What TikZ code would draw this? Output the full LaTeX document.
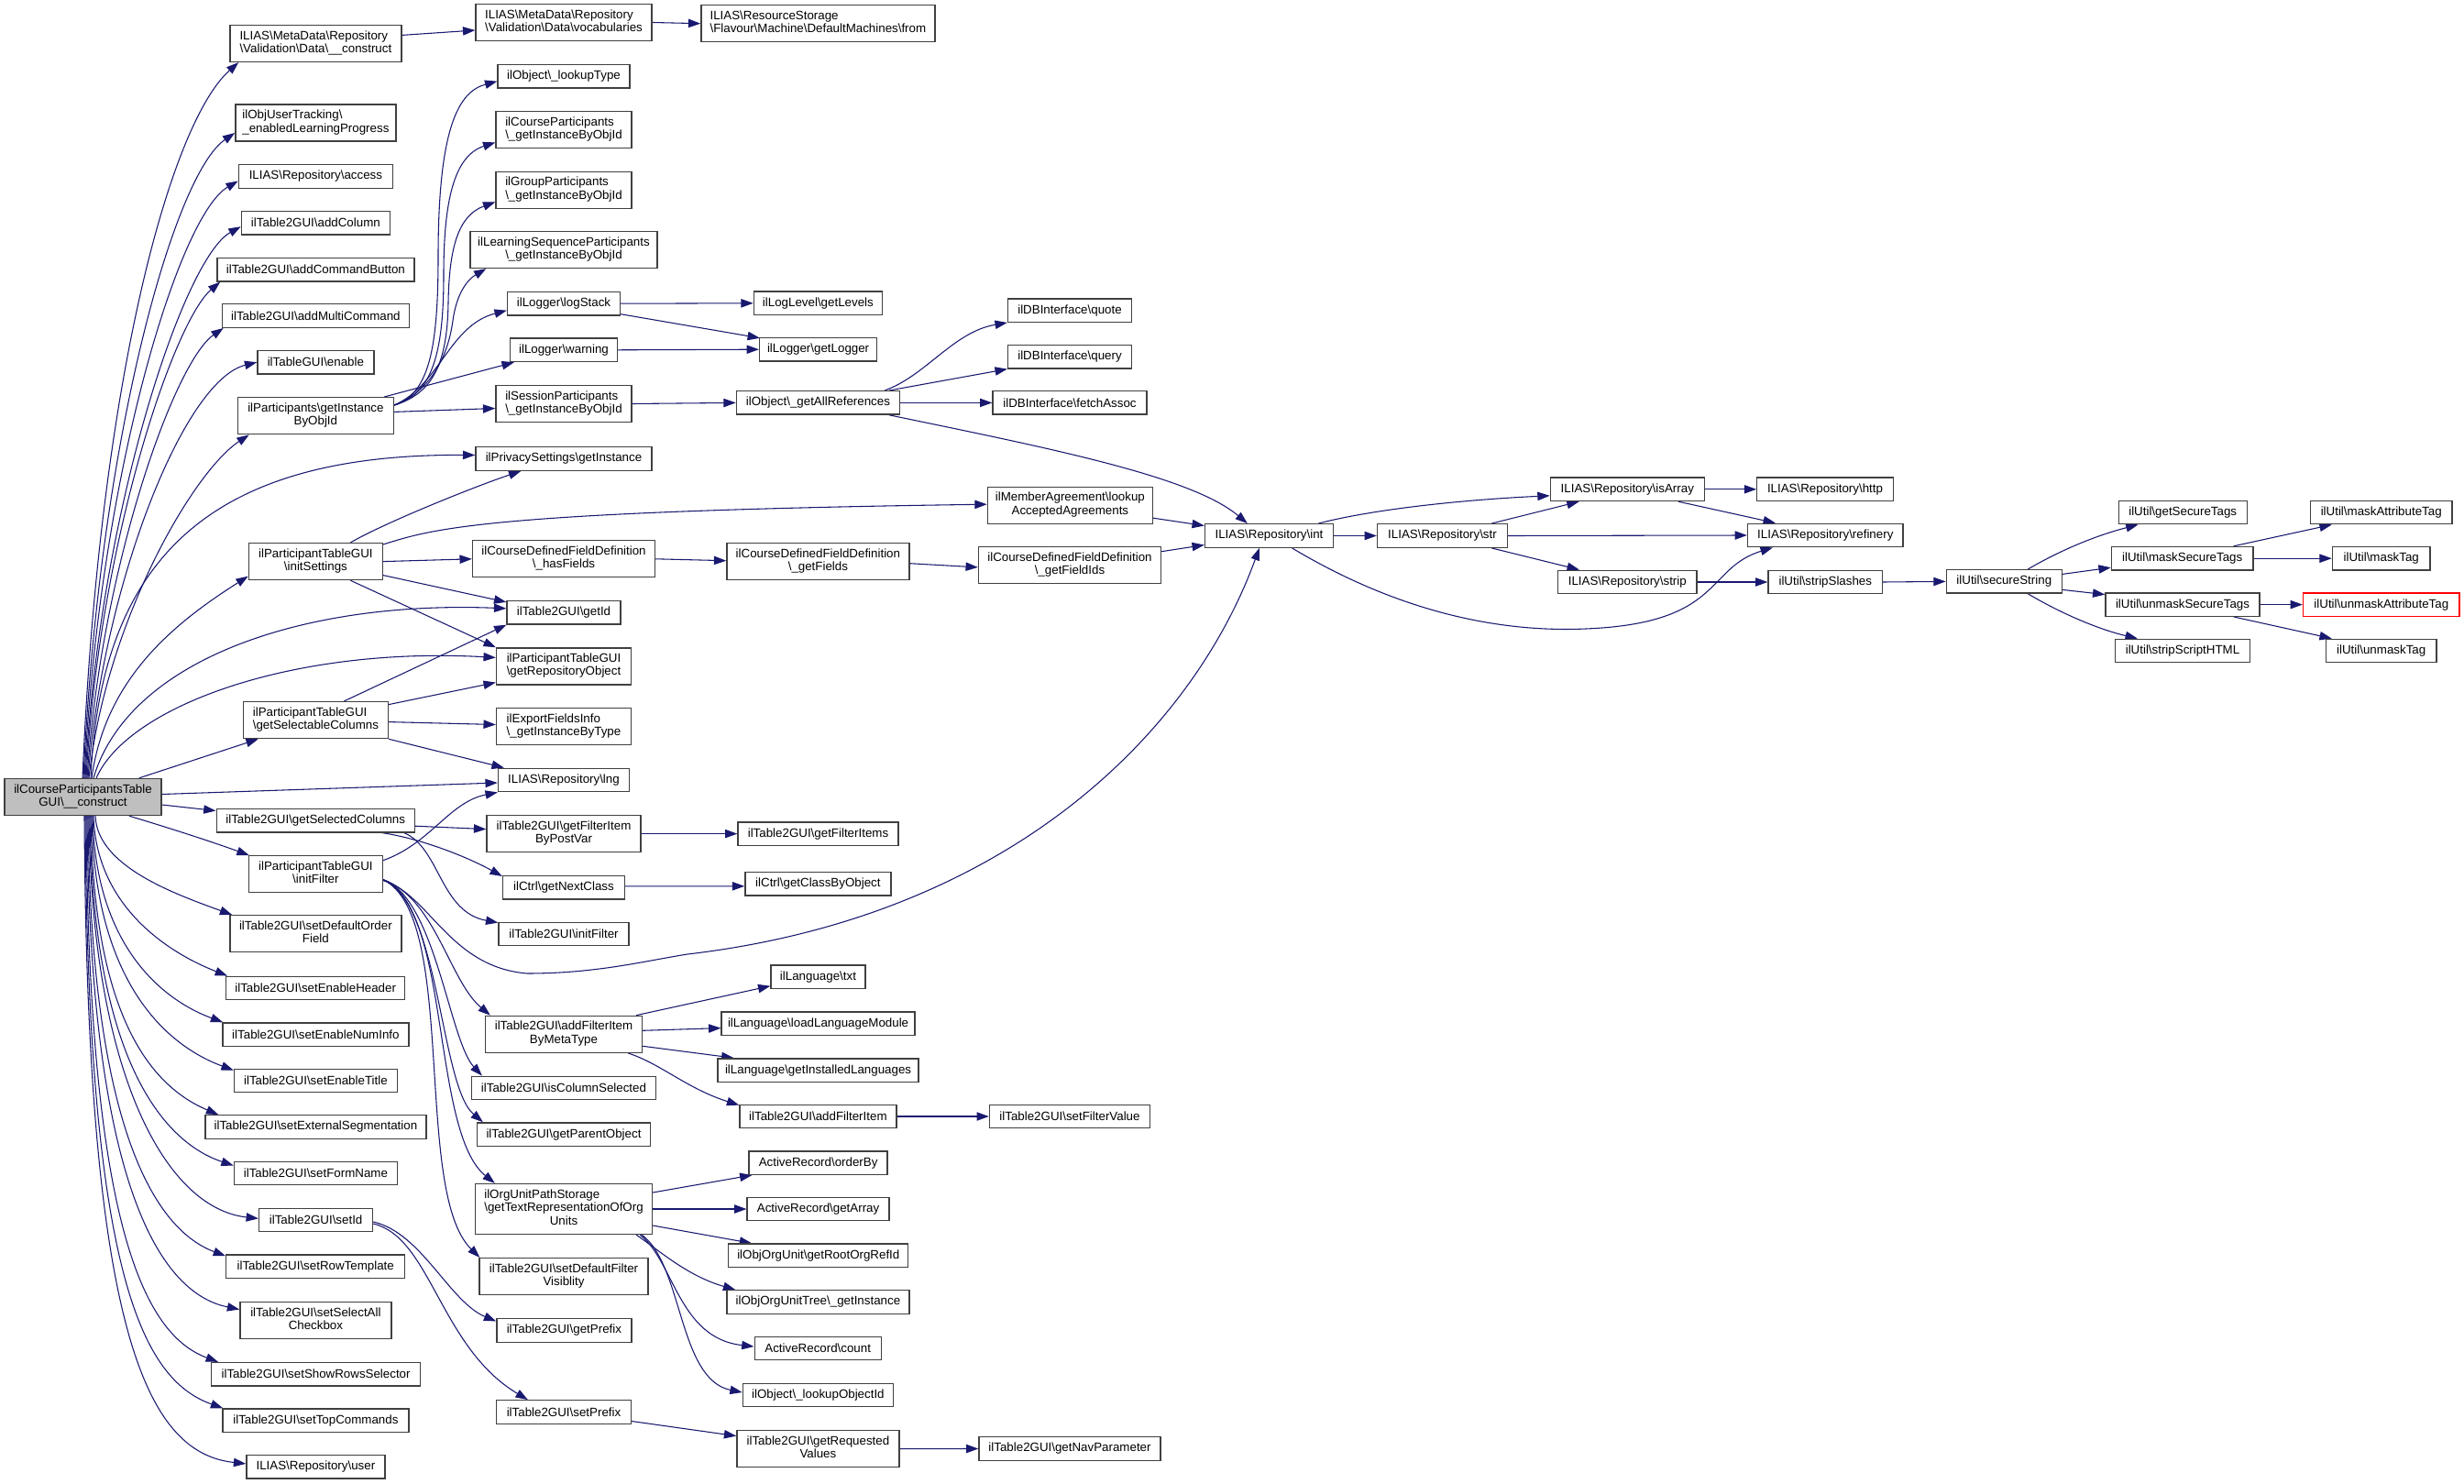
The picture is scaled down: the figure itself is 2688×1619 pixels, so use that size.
\documentclass[tikz,border=0pt]{standalone}
\usepackage{fontspec}
\setmainfont{Liberation Sans}
\usetikzlibrary{arrows.meta,calc,backgrounds}
\definecolor{edgeblue}{HTML}{191970}
\definecolor{nodeborder}{HTML}{404040}
\definecolor{maingray}{HTML}{BFBFBF}
\newcommand{\bs}{\textbackslash}
\newcommand{\twol}[2]{\begin{tabular}{@{}l@{}}#1\\\multicolumn{1}{@{}c@{}}{#2}\end{tabular}}
\newcommand{\threel}[3]{\begin{tabular}{@{}l@{}}#1\\#2\\\multicolumn{1}{@{}c@{}}{#3}\end{tabular}}
\tikzset{
  box/.style={draw=nodeborder, line width=1pt, fill=white, inner sep=0pt,
    minimum height=25.5*0.75pt, font=\fontsize{10}{10.8}\selectfont},
  wd/.style={minimum width=#1*0.75pt},
  twoh/.style={minimum height=40*0.75pt},
  threeh/.style={minimum height=55*0.75pt},
  mainbox/.style={box, fill=maingray},
  redbox/.style={box, draw=red},
  conn/.style={draw=edgeblue, line width=0.8pt, -{Triangle[length=10pt,width=7pt]}},
}
\begin{document}
\begin{tikzpicture}[x=0.75pt,y=-0.75pt]
\useasboundingbox (0,0) rectangle (2688,1619);
% main
\node[mainbox, wd=171, twoh] (M) at (90.5,869.5) {\twol{ilCourseParticipantsTable}{GUI\bs{}\_\_construct}};
% column 1
\node[box, wd=187, twoh] (c1meta) at (344.4,47.4) {\twol{ILIAS\bs{}MetaData\bs{}Repository}{\bs{}Validation\bs{}Data\bs{}\_\_construct}};
\node[box, wd=175, twoh] (track) at (344.4,134) {\twol{ilObjUserTracking\bs{}}{\_enabledLearningProgress}};
\node[box, wd=168] (access) at (344.4,192.5) {ILIAS\bs{}Repository\bs{}access};
\node[box, wd=162] (addColumn) at (344.4,243.2) {ilTable2GUI\bs{}addColumn};
\node[box, wd=215] (addCmdBtn) at (344.4,294.2) {ilTable2GUI\bs{}addCommandButton};
\node[box, wd=204] (addMulti) at (344.4,344.5) {ilTable2GUI\bs{}addMultiCommand};
\node[box, wd=127] (enable) at (344.4,395.2) {ilTableGUI\bs{}enable};
\node[box, wd=170, twoh] (P) at (344.4,453.7) {\twol{ilParticipants\bs{}getInstance}{ByObjId}};
\node[box, wd=146, twoh] (IS) at (344.4,612.6) {\twol{ilParticipantTableGUI}{\bs{}initSettings}};
\node[box, wd=158, twoh] (GS) at (344.4,785.6) {\twol{ilParticipantTableGUI}{\bs{}getSelectableColumns}};
\node[box, wd=216] (GSC) at (344.2,895.2) {ilTable2GUI\bs{}getSelectedColumns};
\node[box, wd=146, twoh] (IF) at (344.4,953.7) {\twol{ilParticipantTableGUI}{\bs{}initFilter}};
\node[box, wd=187, twoh] (SDO) at (344.4,1018.7) {\twol{ilTable2GUI\bs{}setDefaultOrder}{Field}};
\node[box, wd=195] (SEH) at (344.2,1078) {ilTable2GUI\bs{}setEnableHeader};
\node[box, wd=203] (SENI) at (344.4,1128.7) {ilTable2GUI\bs{}setEnableNumInfo};
\node[box, wd=178] (SET) at (344.4,1179) {ilTable2GUI\bs{}setEnableTitle};
\node[box, wd=241] (SES) at (344.4,1229.5) {ilTable2GUI\bs{}setExternalSegmentation};
\node[box, wd=178] (SFN) at (344.4,1280) {ilTable2GUI\bs{}setFormName};
\node[box, wd=124] (SI) at (344.6,1331) {ilTable2GUI\bs{}setId};
\node[box, wd=195] (SRT) at (344.2,1381.6) {ilTable2GUI\bs{}setRowTemplate};
\node[box, wd=165, twoh] (SSA) at (344.4,1440.5) {\twol{ilTable2GUI\bs{}setSelectAll}{Checkbox}};
\node[box, wd=228] (SSRS) at (344.6,1499.2) {ilTable2GUI\bs{}setShowRowsSelector};
\node[box, wd=203] (STC) at (344.4,1549.7) {ilTable2GUI\bs{}setTopCommands};
\node[box, wd=151] (user) at (344.4,1600.4) {ILIAS\bs{}Repository\bs{}user};
% column 2
\node[box, wd=192, twoh] (vocab) at (615,24.5) {\twol{ILIAS\bs{}MetaData\bs{}Repository}{\bs{}Validation\bs{}Data\bs{}vocabularies}};
\node[box, wd=144] (lookupType) at (615,83.2) {ilObject\bs{}\_lookupType};
\node[box, wd=148, twoh] (CP) at (615,141.8) {\twol{ilCourseParticipants}{\bs{}\_getInstanceByObjId}};
\node[box, wd=148, twoh] (GP) at (615,207.2) {\twol{ilGroupParticipants}{\bs{}\_getInstanceByObjId}};
\node[box, wd=204, twoh] (LSP) at (615,272.5) {\twol{ilLearningSequenceParticipants}{\bs{}\_getInstanceByObjId}};
\node[box, wd=123] (logStack) at (615,331.2) {ilLogger\bs{}logStack};
\node[box, wd=117] (warning) at (615,381.8) {ilLogger\bs{}warning};
\node[box, wd=148, twoh] (SP) at (615,440.5) {\twol{ilSessionParticipants}{\bs{}\_getInstanceByObjId}};
\node[box, wd=192] (priv) at (615,500.5) {ilPrivacySettings\bs{}getInstance};
\node[box, wd=199, twoh] (hasFields) at (615,609.8) {\twol{ilCourseDefinedFieldDefinition}{\bs{}\_hasFields}};
\node[box, wd=124] (getId) at (615,668.3) {ilTable2GUI\bs{}getId};
\node[box, wd=147, twoh] (repo) at (615,726.9) {\twol{ilParticipantTableGUI}{\bs{}getRepositoryObject}};
\node[box, wd=147, twoh] (export) at (615,792.5) {\twol{ilExportFieldsInfo}{\bs{}\_getInstanceByType}};
\node[box, wd=143] (lng) at (615,851) {ILIAS\bs{}Repository\bs{}lng};
\node[box, wd=168, twoh] (postvar) at (615,909.6) {\twol{ilTable2GUI\bs{}getFilterItem}{ByPostVar}};
\node[box, wd=133] (nextClass) at (615,968.4) {ilCtrl\bs{}getNextClass};
\node[box, wd=142] (initFilter2) at (615,1019) {ilTable2GUI\bs{}initFilter};
\node[box, wd=171, twoh] (AF) at (615,1128.3) {\twol{ilTable2GUI\bs{}addFilterItem}{ByMetaType}};
\node[box, wd=201] (ICS) at (615,1187) {ilTable2GUI\bs{}isColumnSelected};
\node[box, wd=189] (GPO) at (615,1237.6) {ilTable2GUI\bs{}getParentObject};
\node[box, wd=193, threeh] (OU) at (615,1319) {\threel{ilOrgUnitPathStorage}{\bs{}getTextRepresentationOfOrg}{Units}};
\node[box, wd=184, twoh] (SDFV) at (615,1392.5) {\twol{ilTable2GUI\bs{}setDefaultFilter}{Visiblity}};
\node[box, wd=147] (getPrefix) at (615.4,1451.5) {ilTable2GUI\bs{}getPrefix};
\node[box, wd=147] (setPrefix) at (615,1540.5) {ilTable2GUI\bs{}setPrefix};
% column 3
\node[box, wd=255, twoh] (from) at (892.4,25.7) {\twol{ILIAS\bs{}ResourceStorage}{\bs{}Flavour\bs{}Machine\bs{}DefaultMachines\bs{}from}};
\node[box, wd=140] (getLevels) at (892.4,330.8) {ilLogLevel\bs{}getLevels};
\node[box, wd=128] (getLogger) at (892.6,381.2) {ilLogger\bs{}getLogger};
\node[box, wd=178] (GAR) at (892.4,439.4) {ilObject\bs{}\_getAllReferences};
\node[box, wd=199, twoh] (getFields) at (892.4,612.7) {\twol{ilCourseDefinedFieldDefinition}{\bs{}\_getFields}};
\node[box, wd=175] (getFilterItems) at (892.5,909.6) {ilTable2GUI\bs{}getFilterItems};
\node[box, wd=159] (getClassByObject) at (892.4,964.3) {ilCtrl\bs{}getClassByObject};
\node[box, wd=103] (txt) at (892.5,1065.7) {ilLanguage\bs{}txt};
\node[box, wd=211] (loadLM) at (892.6,1116.6) {ilLanguage\bs{}loadLanguageModule};
\node[box, wd=219] (getIL) at (892.6,1167.6) {ilLanguage\bs{}getInstalledLanguages};
\node[box, wd=171] (addFilterItem) at (892.4,1218) {ilTable2GUI\bs{}addFilterItem};
\node[box, wd=151] (orderBy) at (892.6,1268.6) {ActiveRecord\bs{}orderBy};
\node[box, wd=155] (getArray) at (892.6,1319) {ActiveRecord\bs{}getArray};
\node[box, wd=196] (rootOrg) at (892.8,1369.8) {ilObjOrgUnit\bs{}getRootOrgRefId};
\node[box, wd=199] (orgTree) at (892.4,1420.5) {ilObjOrgUnitTree\bs{}\_getInstance};
\node[box, wd=138] (count) at (892.2,1471) {ActiveRecord\bs{}count};
\node[box, wd=164] (lookupObjId) at (892.4,1522) {ilObject\bs{}\_lookupObjectId};
\node[box, wd=177, twoh] (reqValues) at (892.4,1580.6) {\twol{ilTable2GUI\bs{}getRequested}{Values}};
% column 4
\node[box, wd=135] (quote) at (1167,338.6) {ilDBInterface\bs{}quote};
\node[box, wd=135] (query) at (1167,389.2) {ilDBInterface\bs{}query};
\node[box, wd=168] (fetchAssoc) at (1167,439.4) {ilDBInterface\bs{}fetchAssoc};
\node[box, wd=180, twoh] (MA) at (1167.4,551.2) {\twol{ilMemberAgreement\bs{}lookup}{AcceptedAgreements}};
\node[box, wd=199, twoh] (fieldIds) at (1167,616.4) {\twol{ilCourseDefinedFieldDefinition}{\bs{}\_getFieldIds}};
\node[box, wd=175] (setFilterValue) at (1167,1218) {ilTable2GUI\bs{}setFilterValue};
\node[box, wd=198] (navParam) at (1167,1580.5) {ilTable2GUI\bs{}getNavParameter};
% columns 5+
\node[box, wd=140] (int) at (1384.5,584.5) {ILIAS\bs{}Repository\bs{}int};
\node[box, wd=142] (str) at (1573.5,584.5) {ILIAS\bs{}Repository\bs{}str};
\node[box, wd=168] (isArray) at (1775.3,533.8) {ILIAS\bs{}Repository\bs{}isArray};
\node[box, wd=151.5] (strip) at (1775.3,635) {ILIAS\bs{}Repository\bs{}strip};
\node[box, wd=148.5] (http) at (1991,533.8) {ILIAS\bs{}Repository\bs{}http};
\node[box, wd=169.5] (refinery) at (1991.3,584) {ILIAS\bs{}Repository\bs{}refinery};
\node[box, wd=124.5] (stripSlashes) at (1991.3,635) {ilUtil\bs{}stripSlashes};
\node[box, wd=126] (SS) at (2186.3,634.4) {ilUtil\bs{}secureString};
\node[box, wd=140] (getSecureTags) at (2381.2,559) {ilUtil\bs{}getSecureTags};
\node[box, wd=154.6] (maskSecureTags) at (2380.7,609.2) {ilUtil\bs{}maskSecureTags};
\node[box, wd=168] (unmaskSecureTags) at (2381,659.6) {ilUtil\bs{}unmaskSecureTags};
\node[box, wd=147] (stripScriptHTML) at (2381,710) {ilUtil\bs{}stripScriptHTML};
\node[box, wd=154.6] (maskAttributeTag) at (2597.7,559) {ilUtil\bs{}maskAttributeTag};
\node[box, wd=106.6] (maskTag) at (2597.7,609.2) {ilUtil\bs{}maskTag};
\node[redbox, wd=170.5] (unmaskAttributeTag) at (2597.8,659.6) {ilUtil\bs{}unmaskAttributeTag};
\node[box, wd=120.5] (unmaskTag) at (2597.7,710) {ilUtil\bs{}unmaskTag};

\begin{scope}[on background layer]
\fill[white] (0,0) rectangle (2688,1619);
% main upward fan
\draw[conn] ($(M.north)+(-0.5,0)$) .. controls (108,420) and (185,135) .. ($(c1meta.south west)+(10,0)$);
\draw[conn] ($(M.north)+(0.5,0)$) .. controls (108,480) and (190,190) .. ($(track.west)+(0,11)$);
\draw[conn] ($(M.north)+(1.5,0)$) .. controls (108,520) and (195,235) .. ($(access.west)+(0,5)$);
\draw[conn] ($(M.north)+(2.5,0)$) .. controls (108,560) and (200,282) .. ($(addColumn.west)+(0,4)$);
\draw[conn] ($(M.north)+(3.5,0)$) .. controls (108,590) and (190,350) .. ($(addCmdBtn.south west)+(4,0)$);
\draw[conn] ($(M.north)+(4.5,0)$) .. controls (110,620) and (190,395) .. ($(addMulti.south west)+(2,0)$);
\draw[conn] ($(M.north)+(5.5,0)$) .. controls (112,640) and (200,415) .. (enable.west);
\draw[conn] ($(M.north)+(6.5,0)$) .. controls (115,680) and (210,515) .. ($(P.south west)+(13,0)$);
\draw[conn] ($(M.north)+(8.5,0)$) .. controls (110,600) and (240,495) .. ($(priv.west)+(0,-4)$);
\draw[conn] ($(M.north)+(9.5,0)$) .. controls (115,740) and (190,680) .. ($(IS.west)+(0,16)$);
\draw[conn] ($(M.north)+(11.5,0)$) .. controls (140,720) and (330,655) .. ($(getId.west)+(0,-4.5)$);
\draw[conn] ($(M.north)+(14.5,0)$) .. controls (140,770) and (320,705) .. ($(repo.west)+(0,-9.5)$);
% main right side
\draw[conn] ($(M.north east)+(-25,0)$) -- ($(GS.south west)+(17,0)$);
\draw[conn] ($(M.east)+(0,-3)$) -- ($(lng.west)+(0,3)$);
\draw[conn] ($(M.east)+(0,8.5)$) -- ($(GSC.west)+(0,-10.7)$);
\draw[conn] ($(M.south)+(50.5,0)$) .. controls (190,905) and (230,918) .. ($(IF.north west)+(1,0)$);
% main downward fan
\draw[conn] ($(M.south)+(13.5,0)$) .. controls (106,945) and (190,975) .. ($(SDO.north west)+(3,0)$);
\draw[conn] ($(M.south)+(11.5,0)$) .. controls (105,990) and (185,1040) .. ($(SEH.north west)+(2,0)$);
\draw[conn] ($(M.south)+(10.5,0)$) .. controls (104,1030) and (175,1090) .. ($(SENI.north west)+(1,0)$);
\draw[conn] ($(M.south)+(9.5,0)$) .. controls (103,1070) and (180,1140) .. ($(SET.north west)+(0,2)$);
\draw[conn] ($(M.south)+(8.5,0)$) .. controls (102,1110) and (165,1185) .. ($(SES.north west)+(15,0)$);
\draw[conn] ($(M.south)+(7.5,0)$) .. controls (101,1150) and (175,1245) .. ($(SFN.north west)+(0,5)$);
\draw[conn] ($(M.south)+(6.5,0)$) .. controls (100,1170) and (180,1318) .. ($(SI.west)+(0,-1.6)$);
\draw[conn] ($(M.south)+(5.5,0)$) .. controls (99,1220) and (165,1340) .. ($(SRT.north west)+(0,2)$);
\draw[conn] ($(M.south)+(4.5,0)$) .. controls (98,1280) and (170,1410) .. ($(SSA.west)+(0,-12)$);
\draw[conn] ($(M.south)+(3.5,0)$) .. controls (97,1330) and (155,1455) .. ($(SSRS.north west)+(8,0)$);
\draw[conn] ($(M.south)+(2.5,0)$) .. controls (96,1390) and (155,1505) .. ($(STC.north west)+(1,0)$);
\draw[conn] ($(M.south)+(1.5,0)$) .. controls (95,1455) and (160,1585) .. ($(user.west)+(0,-3.5)$);
% column 1 -> 2
\draw[conn] ($(c1meta.east)+(0,-9)$) -- ($(vocab.west)+(0,8.5)$);
\draw[conn] (vocab.east) -- (from.west);
\draw[conn] ($(P.east)+(0,-11.7)$) .. controls (468,430) and (478,380) .. (478,280) .. controls (478,140) and (500,100) .. ($(lookupType.west)+(0,5.5)$);
\draw[conn] ($(P.east)+(0,-11.7)$) .. controls (470,430) and (484,390) .. (484,300) .. controls (484,220) and (495,170) .. ($(CP.west)+(0,13.6)$);
\draw[conn] ($(P.east)+(0,-11.7)$) .. controls (470,430) and (488,400) .. (489,330) .. controls (490,270) and (500,235) .. ($(GP.west)+(0,13.2)$);
\draw[conn] ($(P.east)+(0,-11.7)$) .. controls (475,425) and (490,380) .. (494,350) .. controls (498,320) and (510,305) .. ($(LSP.south west)+(18,0)$);
\draw[conn] ($(P.east)+(0,-11.7)$) .. controls (480,420) and (490,355) .. ($(logStack.west)+(0,7.5)$);
\draw[conn] ($(P.north east)+(-11,0)$) -- ($(warning.south west)+(5,0)$);
\draw[conn] ($(P.east)+(0,-4.3)$) -- ($(SP.west)+(0,5)$);
\draw[conn] (logStack.east) -- (getLevels.west);
\draw[conn] ($(logStack.east)+(0,11.5)$) -- ($(getLogger.north west)+(1,1)$);
\draw[conn] (warning.east) -- (getLogger.west);
\draw[conn] (SP.east) -- (GAR.west);
\draw[conn] ($(GAR.north east)+(-17,0)$) .. controls (1010,410) and (1040,362) .. (quote.south west);
\draw[conn] ($(GAR.north east)+(-12,0)$) -- (query.south west);
\draw[conn] (GAR.east) -- (fetchAssoc.west);
\draw[conn] ($(GAR.south east)+(-12,0)$) .. controls (1150,490) and (1300,520) .. ($(int.north west)+(47,0)$);
% initSettings
\draw[conn] ($(IS.north)+(38,0)$) .. controls (420,570) and (520,530) .. ($(priv.south west)+(50,0)$);
\draw[conn] ($(IS.north east)+(0,2)$) .. controls (470,578) and (520,558) .. ($(MA.west)+(0,-1)$);
\draw[conn] (IS.east) -- (hasFields.west);
\draw[conn] ($(IS.east)+(0,15)$) -- ($(getId.north west)+(0,2)$);
\draw[conn] ($(IS.south)+(38,0)$) -- (repo.north west);
% getSelectableColumns
\draw[conn] ($(GS.north)+(31,0)$) -- (getId.south west);
\draw[conn] ($(GS.east)+(0,-17)$) -- ($(repo.south west)+(0,-3)$);
\draw[conn] ($(GS.east)+(0,2)$) -- ($(export.west)+(0,-2)$);
\draw[conn] (GS.south east) -- ($(lng.north west)+(7,0)$);
% getSelectedColumns
\draw[conn] ($(GSC.east)+(0,6)$) -- ($(postvar.west)+(0,-5)$);
\draw[conn] ($(GSC.south east)+(-36,0)$) .. controls (460,915) and (510,935) .. ($(nextClass.north west)+(0,1)$);
\draw[conn] ($(GSC.south east)+(-12,0)$) .. controls (480,925) and (480,995) .. ($(initFilter2.north west)+(0,1)$);
% initFilter
\draw[conn] ($(IF.east)+(0,-15)$) .. controls (470,920) and (490,875) .. (lng.south west);
\draw[conn] ($(IF.east)+(0,6)$) .. controls (475,980) and (490,1070) .. ($(AF.north west)+(6,0)$);
\draw[conn] ($(IF.east)+(0,6)$) .. controls (475,980) and (490,1135) .. ($(ICS.north west)+(12,0)$);
\draw[conn] ($(IF.east)+(0,6)$) .. controls (480,985) and (480,1185) .. ($(GPO.north west)+(7,0)$);
\draw[conn] ($(IF.east)+(0,6)$) .. controls (492,990) and (470,1235) .. ($(OU.north west)+(22,0)$);
\draw[conn] ($(IF.east)+(0,6)$) .. controls (500,1000) and (450,1300) .. ($(SDFV.north west)+(1,0)$);
\draw[conn] ($(IF.east)+(0,7)$) .. controls (468,975) and (490,1055) .. (575,1062) .. controls (650,1062) and (700,1049) .. (750,1041) .. controls (1100,1000) and (1300,800) .. ($(int.south west)+(60,0)$);
% setId
\draw[conn] ($(SI.east)+(0,2)$) .. controls (460,1345) and (490,1420) .. ($(getPrefix.west)+(0,-10)$);
\draw[conn] ($(SI.east)+(0,4)$) .. controls (470,1350) and (480,1470) .. ($(setPrefix.north west)+(35,0)$);
\draw[conn] ($(setPrefix.east)+(0,10)$) -- ($(reqValues.west)+(0,-14)$);
\draw[conn] (reqValues.east) -- (navParam.west);
% addFilterItemByMetaType
\draw[conn] ($(AF.north east)+(-7,0)$) -- ($(txt.west)+(0,10)$);
\draw[conn] ($(AF.east)+(0,-4)$) -- ($(loadLM.west)+(0,5)$);
\draw[conn] ($(AF.east)+(0,13)$) -- ($(getIL.north west)+(18,0)$);
\draw[conn] ($(AF.south east)+(-16,0)$) .. controls (720,1160) and (750,1188) .. ($(addFilterItem.north west)+(0,1)$);
\draw[conn] (addFilterItem.east) -- (setFilterValue.west);
% OrgUnitPathStorage
\draw[conn] ($(OU.east)+(0,-18)$) -- ($(orderBy.south west)+(4,0)$);
\draw[conn] (OU.east) -- (getArray.west);
\draw[conn] ($(OU.east)+(0,18)$) -- ($(rootOrg.north west)+(26,0)$);
\draw[conn] ($(OU.south east)+(-18,0)$) .. controls (720,1365) and (750,1392) .. ($(orgTree.north west)+(10,0)$);
\draw[conn] ($(OU.south east)+(-14,0)$) .. controls (735,1375) and (740,1460) .. ($(count.west)+(0,-2)$);
\draw[conn] ($(OU.south east)+(-12,0)$) .. controls (745,1380) and (740,1505) .. ($(lookupObjId.west)+(0,-3)$);
% field definitions, agreements
\draw[conn] (hasFields.east) -- ($(getFields.west)+(0,-1)$);
\draw[conn] ($(getFields.east)+(0,2)$) -- ($(fieldIds.west)+(0,2.5)$);
\draw[conn] ($(fieldIds.east)+(0,-14.7)$) -- ($(int.west)+(0,10)$);
\draw[conn] ($(MA.east)+(0,14)$) -- ($(int.west)+(0,-11)$);
\draw[conn] (postvar.east) -- (getFilterItems.west);
\draw[conn] ($(nextClass.east)+(0,-1.5)$) -- ($(getClassByObject.west)+(0,2.5)$);
% repository int / str
\draw[conn] (int.east) -- (str.west);
\draw[conn] ($(int.north east)+(-17,0)$) .. controls (1500,555) and (1600,545) .. ($(isArray.west)+(0,7)$);
\draw[conn] ($(int.south)+(25,0)$) .. controls (1530,670) and (1640,690) .. (1730,686) .. controls (1880,680) and (1860,620) .. ($(refinery.south west)+(28,0)$);
\draw[conn] ($(str.north east)+(-18,0)$) -- ($(isArray.south west)+(32,0)$);
\draw[conn] (str.east) -- (refinery.west);
\draw[conn] ($(str.south east)+(-18,0)$) -- ($(strip.north west)+(24,0)$);
\draw[conn] (isArray.east) -- (http.west);
\draw[conn] ($(isArray.south east)+(-29,0)$) -- ($(refinery.north west)+(31,0)$);
\draw[conn] (strip.east) -- (stripSlashes.west);
\draw[conn] (stripSlashes.east) -- (SS.west);
% secureString
\draw[conn] ($(SS.north)+(26,0)$) .. controls (2255,596) and (2295,582) .. ($(getSecureTags.south west)+(22,0)$);
\draw[conn] ($(SS.east)+(0,-8)$) -- ($(maskSecureTags.west)+(0,10)$);
\draw[conn] ($(SS.east)+(0,9)$) -- ($(unmaskSecureTags.west)+(0,-11)$);
\draw[conn] ($(SS.south)+(26,0)$) .. controls (2255,673) and (2295,688) .. ($(stripScriptHTML.north west)+(25,0)$);
\draw[conn] ($(maskSecureTags.north)+(56,0)$) -- ($(maskAttributeTag.south west)+(24,0)$);
\draw[conn] (maskSecureTags.east) -- (maskTag.west);
\draw[conn] (unmaskSecureTags.east) -- (unmaskAttributeTag.west);
\draw[conn] ($(unmaskSecureTags.south)+(56,0)$) -- ($(unmaskTag.north west)+(7,0)$);
\end{scope}
\end{tikzpicture}
\end{document}
